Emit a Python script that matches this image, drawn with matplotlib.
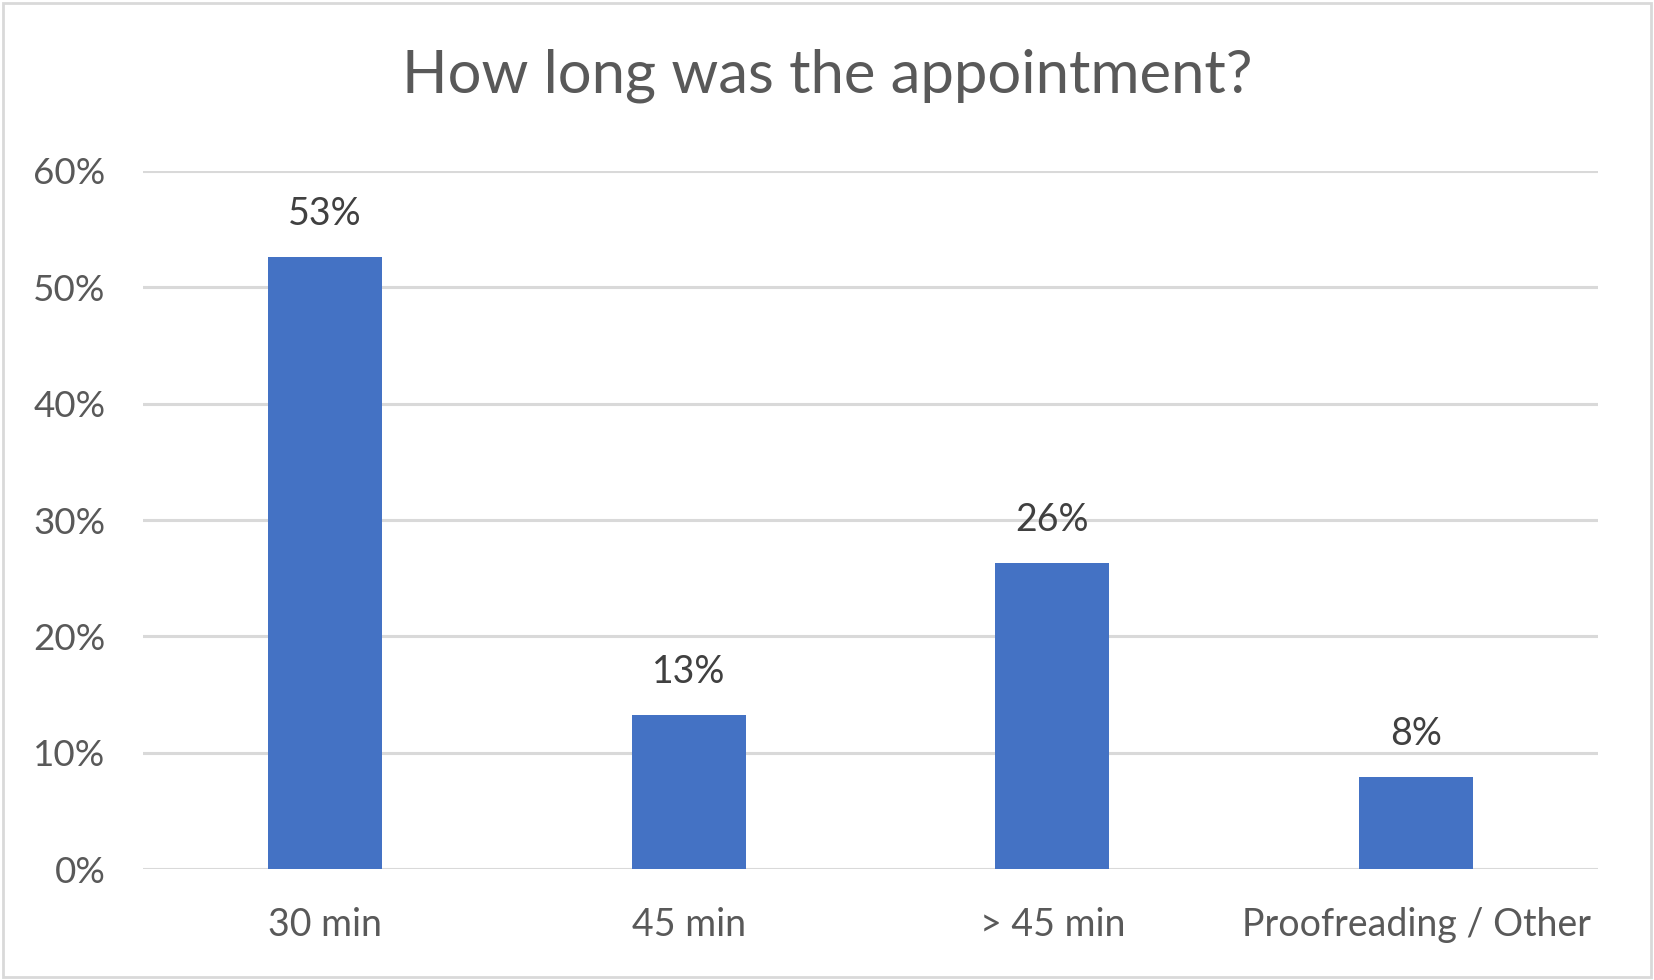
import matplotlib
matplotlib.use("Agg")
import matplotlib.pyplot as plt
from matplotlib.patches import Rectangle
from matplotlib.ticker import PercentFormatter

categories = ["30 min", "45 min", "> 45 min", "Proofreading / Other"]
values = [0.526, 0.132, 0.263, 0.079]
labels = ["53%", "13%", "26%", "8%"]
yticks = [0, 0.1, 0.2, 0.3, 0.4, 0.5, 0.6]

plt.rcParams['font.family'] = ['Lato', 'DejaVu Sans']

fig = plt.figure(figsize=(16.54, 9.8), dpi=100)
ax = fig.add_axes([143/1654, 1-869/980, (1598-143)/1654, (869-171)/980])

x = range(len(categories))
bars = ax.bar(x, values, width=0.313, color="#4472C4", zorder=3)
for xi, v, lab in zip(x, values, labels):
    ax.annotate(lab, (xi, v), xytext=(0, 31), textcoords="offset points",
                ha="center", va="center", fontsize=27, color="#404040")

ax.set_xlim(-0.5, len(categories) - 0.5)
ax.set_ylim(0, 0.6)
ax.set_yticks(yticks)
ax.yaxis.set_major_formatter(PercentFormatter(1.0, decimals=0))
ax.set_xticks(list(x))
ax.set_xticklabels(categories)
ax.tick_params(axis="both", length=0, labelcolor="#595959")
ax.tick_params(axis="x", pad=27, labelsize=27)
ax.tick_params(axis="y", pad=27, labelsize=26.5)
ax.grid(axis="y", color="#D9D9D9", linewidth=2.2, zorder=0)
for s in ax.spines.values():
    s.set_visible(False)

fig.text(0.5, 1-76/980, "How long was the appointment?", ha="center", va="center",
         fontsize=43, color="#595959")

fig.patches.append(Rectangle((3/1654, 3/980), 1-6/1654, 1-6/980, transform=fig.transFigure,
                             fill=False, edgecolor="#D9D9D9", linewidth=2))

fig.savefig("out.png", dpi=100, facecolor="white")
